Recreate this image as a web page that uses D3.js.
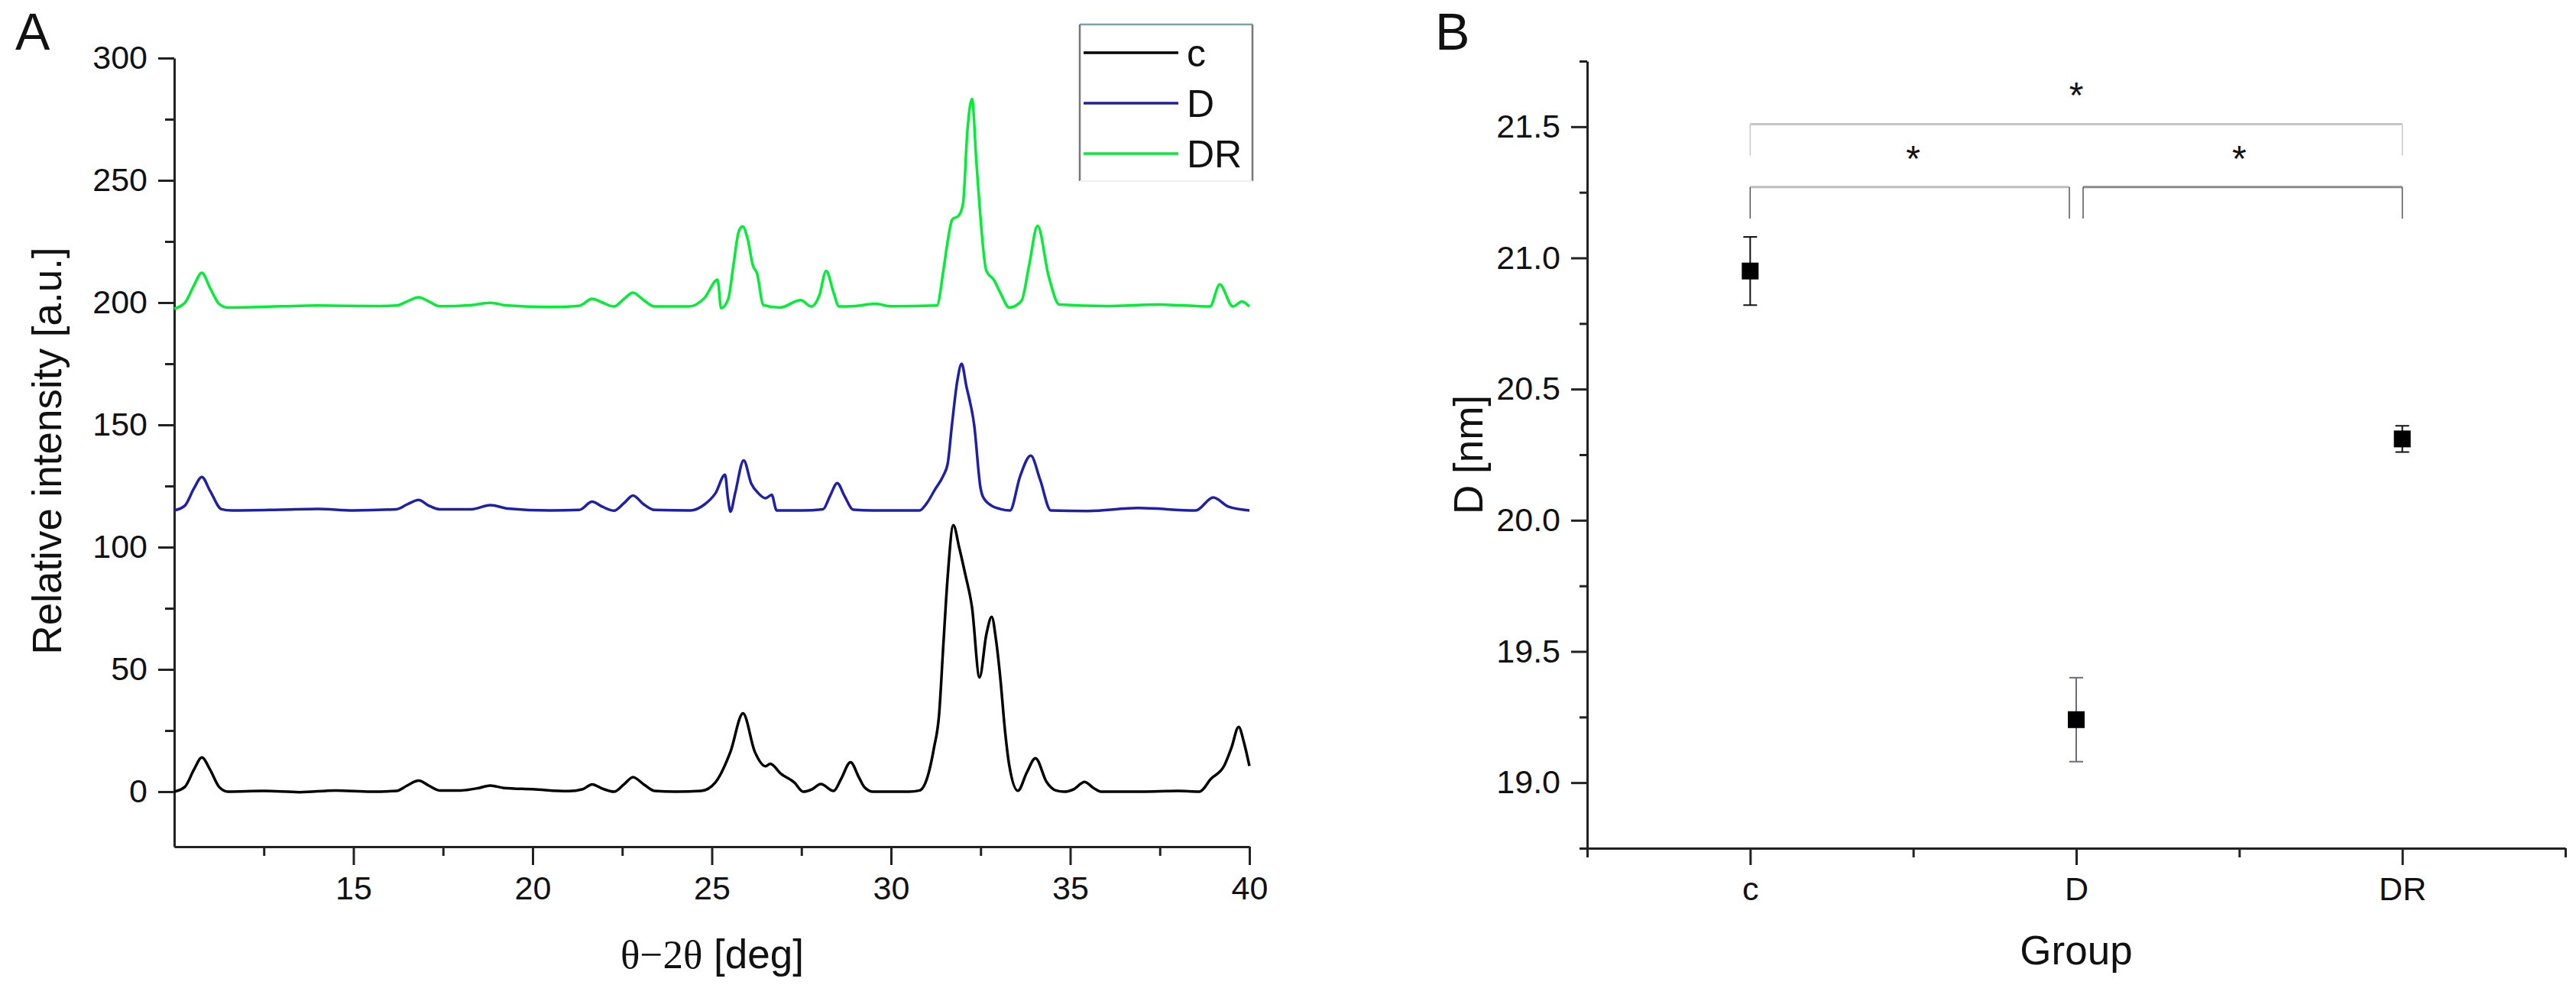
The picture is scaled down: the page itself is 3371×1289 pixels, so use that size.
<!DOCTYPE html>
<meta charset="utf-8">

<body style="margin:0; background:#fff">

<style>
  text {
      font-family: "Liberation Sans", Arial, sans-serif;
      fill: #111;
  }
  .axis path, .axis line {
      stroke: #222;
      stroke-width: 3;
  }
  .axis text {
      font-family: "Liberation Sans", Arial, sans-serif;
      font-size: 43px;
      fill: #111;
  }
  .title {
      font-size: 53px;
      text-anchor: middle;
  }
  .panel {
      font-size: 68px;
  }
  .trace {
      fill: none;
      stroke-width: 3.5;
      stroke-linejoin: round;
  }
</style>
<svg width="3371" height="1289"></svg>
<script src="https://d3js.org/d3.v7.min.js"></script>
<script>

// Panel A: XRD patterns, [2theta, intensity]
var patternC = [[10, 0], [10.3, 2], [10.55, 9], [10.77, 14], [11.0, 9], [11.25, 2], [11.5, 0],
    [12.5, 0.3], [13.5, -0.2], [14.5, 0.5], [15.5, 0], [16.2, 0.3], [16.5, 2.5], [16.82, 4.5],
    [17.1, 2.5], [17.4, 0.5], [18.0, 0.5], [18.5, 1.5], [18.82, 2.5], [19.2, 1.5], [20, 1],
    [21, 0.2], [21.4, 1], [21.66, 3], [21.95, 1.2], [22.27, 0], [22.55, 3], [22.8, 5.9],
    [23.1, 3], [23.4, 0.3], [24, 0], [24.7, 0.3], [25.1, 3.8], [25.52, 16.3], [25.87, 32],
    [26.2, 16.3], [26.5, 10.4], [26.63, 11.4], [26.93, 7.3], [27.3, 3.8], [27.55, 0], [27.8, 1],
    [28.04, 3.1], [28.4, 0.3], [28.6, 5], [28.87, 12], [29.1, 6], [29.26, 1.8], [29.5, 0],
    [30.5, 0], [30.8, 0.5], [31.03, 6.6], [31.2, 18], [31.34, 31.3], [31.46, 60], [31.58, 87.7],
    [31.74, 109], [31.9, 100], [32.07, 89], [32.26, 75.4], [32.47, 46.7], [32.66, 64.3],
    [32.81, 71.5], [32.93, 62], [33.05, 46.4], [33.18, 25], [33.3, 10.7], [33.54, 0.4],
    [33.79, 7.9], [34.03, 13.7], [34.34, 4], [34.6, 0.5], [34.83, 0], [35.1, 1], [35.4, 4],
    [35.65, 1.5], [35.86, 0], [37, 0], [38, 0.3], [38.6, 0], [38.93, 5.3], [39.3, 10.7],
    [39.5, 18], [39.7, 26.5], [39.85, 20], [40, 10.5]];

var patternD = [[10, 115], [10.3, 117], [10.55, 124], [10.77, 128.7], [11.0, 123], [11.32, 115.5],
    [11.6, 115], [13, 115.3], [14, 115.6], [15, 115], [16.2, 115.5], [16.5, 117.5], [16.82, 119.3],
    [17.1, 117], [17.4, 115.5], [18.3, 115.5], [18.82, 117.2], [19.3, 115.8], [20.5, 115],
    [21.3, 115.2], [21.66, 118.6], [21.95, 116.5], [22.27, 114.9], [22.55, 118], [22.8, 121.1],
    [23.1, 117.5], [23.4, 115.2], [24.4, 115], [24.8, 117.5], [25.1, 122], [25.37, 129.6],
    [25.45, 120], [25.52, 114.5], [25.65, 122], [25.89, 135.5], [26.1, 126], [26.3, 122],
    [26.5, 120], [26.67, 121.4], [26.81, 115], [27.5, 115], [28.1, 115.5], [28.3, 121],
    [28.5, 126.2], [28.7, 121], [28.95, 115.3], [29.5, 115], [30.79, 115], [31.0, 118],
    [31.22, 123.4], [31.45, 129], [31.58, 134], [31.7, 150], [31.85, 168], [31.97, 175],
    [32.1, 166], [32.32, 150], [32.5, 124], [32.56, 120.8], [32.8, 117], [33.05, 115.6],
    [33.32, 115], [33.6, 128.9], [33.9, 137.4], [34.16, 127.6], [34.46, 115], [35.5, 114.8],
    [36.9, 116], [38.5, 115], [38.99, 120.3], [39.42, 116.5], [40, 115]];

var patternDR = [[10, 197.5], [10.3, 200], [10.55, 207], [10.77, 212.2], [11.0, 206], [11.25, 199.5],
    [11.5, 198], [13, 198.5], [14, 198.8], [15.5, 198.6], [16.2, 198.8], [16.5, 200.5],
    [16.82, 202.2], [17.1, 200.5], [17.4, 198.5], [18.3, 199], [18.82, 199.9], [19.3, 198.8],
    [20.5, 198.2], [21.3, 198.7], [21.66, 201.6], [21.95, 200], [22.27, 198.4], [22.55, 201.5],
    [22.8, 204.1], [23.1, 201], [23.4, 198.4], [24.36, 198.4], [24.8, 202], [25.16, 209.4],
    [25.26, 197.7], [25.46, 201.6], [25.6, 215], [25.75, 229], [25.86, 231.2], [26.0, 226],
    [26.15, 215], [26.26, 212], [26.44, 199], [26.9, 198], [27.48, 201], [27.78, 198.4],
    [28.0, 203], [28.19, 213], [28.4, 204], [28.55, 198.4], [29.0, 198.6], [29.57, 199.5],
    [30.0, 198.5], [31.28, 198.8], [31.46, 213], [31.58, 225], [31.71, 234], [31.89, 235.6],
    [32.01, 240.5], [32.13, 270], [32.26, 283.3], [32.38, 258], [32.44, 245.7], [32.66, 213],
    [32.87, 209.3], [33.05, 204], [33.3, 198], [33.64, 200.7], [33.85, 215], [34.09, 231.4],
    [34.4, 210.7], [34.7, 199.2], [36, 198.6], [37.5, 199.2], [38.9, 198.4], [39.17, 207.4],
    [39.54, 198.4], [39.79, 200.5], [40, 198.4]];

var seriesNames = ["c", "D", "DR"];
var seriesColors = ["#000000", "#1f1fa8", "#00ee33"];

var angleTicks = [15, 20, 25, 30, 35, 40];
var angleMinor = [12.5, 17.5, 22.5, 27.5, 32.5, 37.5];
var intensityTicks = [0, 50, 100, 150, 200, 250, 300];
var intensityMinor = [25, 75, 125, 175, 225, 275];

// Panel B: crystallite size per group
var groups = ["c", "D", "DR"];
var sizeMean = [20.95, 19.24, 20.31];
var sizeSd = [0.13, 0.16, 0.05];
var sizeTicks = [19.0, 19.5, 20.0, 20.5, 21.0, 21.5];
var sizeMinor = [18.75, 19.25, 19.75, 20.25, 20.75, 21.25, 21.75];

// significance brackets: groups compared, bar level, leg end, star level
var sigPairs = [[0, 2], [0, 1], [1, 2]];
var sigBar = [21.51, 21.27, 21.27];
var sigLeg = [21.39, 21.15, 21.15];
var sigStar = [21.63, 21.39, 21.39];
var sigColor = ["#c6c6c6", "#bdbdbd", "#8a8a8a"];

// The svg
var svg = d3.select("svg");

// ---------- Panel A ----------
var xA = d3.scaleLinear().domain([10, 40]).range([228, 1635]);
var yA = d3.scaleLinear().domain([-22.5, 300]).range([1108, 76]);

svg.append("g")
    .attr("class", "axis")
    .attr("transform", "translate(0,1108)")
    .call(d3.axisBottom(xA).tickValues(angleTicks).tickSize(24).tickSizeOuter(0)
        .tickPadding(14).tickFormat(d3.format("d")));
svg.append("g")
    .attr("class", "axis")
    .attr("transform", "translate(0,1108)")
    .call(d3.axisBottom(xA).tickValues(angleMinor).tickSize(12).tickFormat(""))
    .select(".domain").remove();

svg.append("g")
    .attr("class", "axis")
    .attr("transform", "translate(228,0)")
    .call(d3.axisLeft(yA).tickValues(intensityTicks).tickSize(21).tickSizeOuter(0)
        .tickPadding(14).tickFormat(d3.format("d")));
svg.append("g")
    .attr("class", "axis")
    .attr("transform", "translate(228,0)")
    .call(d3.axisLeft(yA).tickValues(intensityMinor).tickSize(12).tickFormat(""))
    .select(".domain").remove();

var line = d3.line()
    .x(function (d) { return xA(d[0]); })
    .y(function (d) { return yA(d[1]); })
    .curve(d3.curveMonotoneX);

svg.append("g")
    .selectAll("path")
    .data([patternC, patternD, patternDR])
    .enter().append("path")
        .attr("class", "trace")
        .attr("stroke", function (d, i) { return seriesColors[i]; })
        .attr("d", line);

// Legend
var legend = svg.append("g");
legend.append("line").attr("x1", 1413).attr("x2", 1639).attr("y1", 32).attr("y2", 32)
    .attr("stroke", "#7aa6a6").attr("stroke-width", 2.5);
legend.append("line").attr("x1", 1413).attr("x2", 1413).attr("y1", 32).attr("y2", 237)
    .attr("stroke", "#777").attr("stroke-width", 2.5);
legend.append("line").attr("x1", 1639).attr("x2", 1639).attr("y1", 32).attr("y2", 237)
    .attr("stroke", "#777").attr("stroke-width", 2.5);
legend.append("line").attr("x1", 1413).attr("x2", 1639).attr("y1", 237).attr("y2", 237)
    .attr("stroke", "#eee").attr("stroke-width", 2);

var item = legend.selectAll(".item")
    .data(seriesNames)
    .enter().append("g")
        .attr("class", "item")
        .attr("transform", function (d, i) { return "translate(0," + (69 + i * 66) + ")"; });
item.append("line")
    .attr("x1", 1418).attr("x2", 1542)
    .attr("stroke", function (d, i) { return seriesColors[i]; })
    .attr("stroke-width", 3.5);
item.append("text")
    .attr("x", 1553)
    .attr("y", 18)
    .style("font-size", "50px")
    .text(function (d) { return d; });

// Titles
svg.append("text").attr("class", "panel").attr("x", 20).attr("y", 65).text("A");
svg.append("text")
    .attr("class", "title")
    .attr("transform", "translate(80,590) rotate(-90)")
    .text("Relative intensity [a.u.]");
var xt = svg.append("text").attr("class", "title").attr("x", 932).attr("y", 1267);
xt.append("tspan").style("font-family", "'Liberation Serif', 'Times New Roman', serif").text("θ−2θ");
xt.append("tspan").text(" [deg]");

// ---------- Panel B ----------
var xB = d3.scaleLinear().domain([0.5, 3.5]).range([2077, 3357]);
var yB = d3.scaleLinear().domain([18.75, 21.75]).range([1110, 80]);

svg.append("g")
    .attr("class", "axis")
    .attr("transform", "translate(0,1110)")
    .call(d3.axisBottom(xB).tickValues([1, 2, 3]).tickSize(22).tickSizeOuter(0)
        .tickPadding(15).tickFormat(function (d) { return groups[d - 1]; }));
svg.append("g")
    .attr("class", "axis")
    .attr("transform", "translate(0,1110)")
    .call(d3.axisBottom(xB).tickValues([0.5, 1.5, 2.5, 3.5]).tickSize(12).tickFormat(""))
    .select(".domain").remove();

svg.append("g")
    .attr("class", "axis")
    .attr("transform", "translate(2077,0)")
    .call(d3.axisLeft(yB).tickValues(sizeTicks).tickSize(21).tickSizeOuter(0)
        .tickPadding(14).tickFormat(d3.format(".1f")));
svg.append("g")
    .attr("class", "axis")
    .attr("transform", "translate(2077,0)")
    .call(d3.axisLeft(yB).tickValues(sizeMinor).tickSize(10).tickFormat(""))
    .select(".domain").remove();

// error bars and means
var pts = svg.append("g")
    .selectAll("g")
    .data(sizeMean)
    .enter().append("g");
var barColor = ["#111", "#6a6a80", "#111"];
pts.append("line")
    .attr("x1", function (d, i) { return xB(i + 1); })
    .attr("x2", function (d, i) { return xB(i + 1); })
    .attr("y1", function (d, i) { return yB(d - sizeSd[i]); })
    .attr("y2", function (d, i) { return yB(d + sizeSd[i]); })
    .attr("stroke", function (d, i) { return barColor[i]; })
    .attr("stroke-width", 2);
[-1, 1].forEach(function (s) {
    pts.append("line")
        .attr("x1", function (d, i) { return xB(i + 1) - 9; })
        .attr("x2", function (d, i) { return xB(i + 1) + 9; })
        .attr("y1", function (d, i) { return yB(d + s * sizeSd[i]); })
        .attr("y2", function (d, i) { return yB(d + s * sizeSd[i]); })
        .attr("stroke", function (d, i) { return barColor[i]; })
        .attr("stroke-width", 2);
});
pts.append("rect")
    .attr("x", function (d, i) { return xB(i + 1) - 11; })
    .attr("y", function (d) { return yB(d) - 11; })
    .attr("width", 22)
    .attr("height", 22)
    .attr("fill", "#000");

// significance brackets
var sig = svg.append("g")
    .selectAll("g")
    .data(sigPairs)
    .enter().append("g");
function endX(g, side) {
    // brackets that meet at the middle group leave a small gap
    var x = xB(g + 1);
    if (g === 1) x += side * 9;
    return x;
}
sig.append("path")
    .attr("fill", "none")
    .attr("stroke", function (d, i) { return sigColor[i]; })
    .attr("stroke-width", 3)
    .attr("d", function (d, i) {
        return "M" + endX(d[0], 1) + "," + yB(sigBar[i]) + "H" + endX(d[1], -1);
    });
sig.append("path")
    .attr("fill", "none")
    .attr("stroke", function (d, i) { return i === 0 ? "#c6c6c6" : "#555"; })
    .attr("stroke-width", 1.5)
    .attr("d", function (d, i) {
        var a = endX(d[0], 1), b = endX(d[1], -1);
        return "M" + a + "," + yB(sigBar[i]) + "V" + yB(sigLeg[i]) +
            "M" + b + "," + yB(sigBar[i]) + "V" + yB(sigLeg[i]);
    });
sig.append("text")
    .attr("x", function (d) { return (xB(d[0] + 1) + xB(d[1] + 1)) / 2; })
    .attr("y", function (d, i) { return yB(sigStar[i]) + 20; })
    .attr("text-anchor", "middle")
    .style("font-size", "48px")
    .text("*");

// Titles
svg.append("text").attr("class", "panel").attr("x", 1878).attr("y", 65).text("B");
svg.append("text")
    .attr("class", "title")
    .attr("transform", "translate(1940,595) rotate(-90)")
    .text("D [nm]");
svg.append("text").attr("class", "title").attr("x", 2717).attr("y", 1262).text("Group");

</script>
</body>
